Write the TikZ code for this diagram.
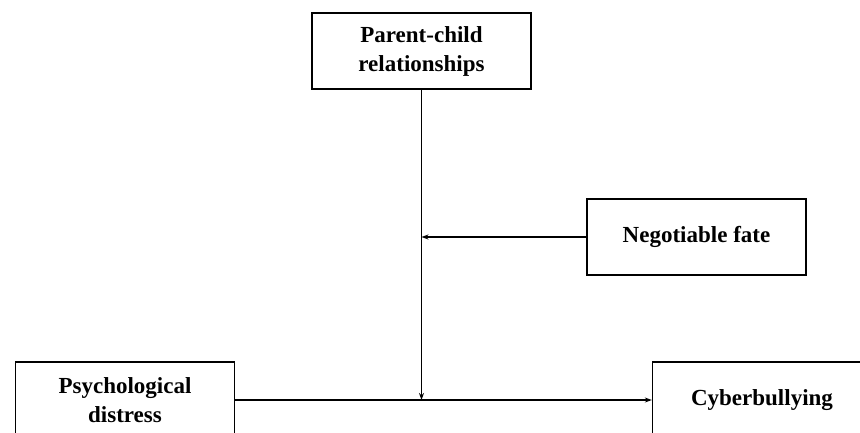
\documentclass[tikz,border=0pt]{standalone}
\usepackage{fontspec}
\setmainfont{Liberation Serif}
\usetikzlibrary{arrows.meta}
\begin{document}
\begin{tikzpicture}[x=1pt,y=-1pt,
  box/.style={draw,line width=1.3pt,minimum width=219pt,minimum height=76pt,inner sep=0pt,align=center,font=\fontsize{23}{29}\selectfont\bfseries},
  conn/.style={line width=1.2pt,-{Stealth[length=7pt,width=5pt]}}]
\useasboundingbox (0,0) rectangle (860,432);
\clip (0,0) rectangle (860,432);
\node[box] (pc) at (421.5,51) {Parent-child\\relationships};
\node[box] (nf) at (696.5,237) {Negotiable fate};
\node[box] (ps) at (125,400) {Psychological\\distress};
\node[box,minimum width=240pt] (cb) at (772.5,400) {\hspace*{-21pt}Cyberbullying};
\coordinate (j) at (pc.south |- ps.east);
\coordinate (m) at (pc.south |- nf.west);
\draw[conn] (ps) -- (cb);
\draw[conn] (pc) -- (j);
\draw[conn] (nf) -- (m);
\end{tikzpicture}
\end{document}
